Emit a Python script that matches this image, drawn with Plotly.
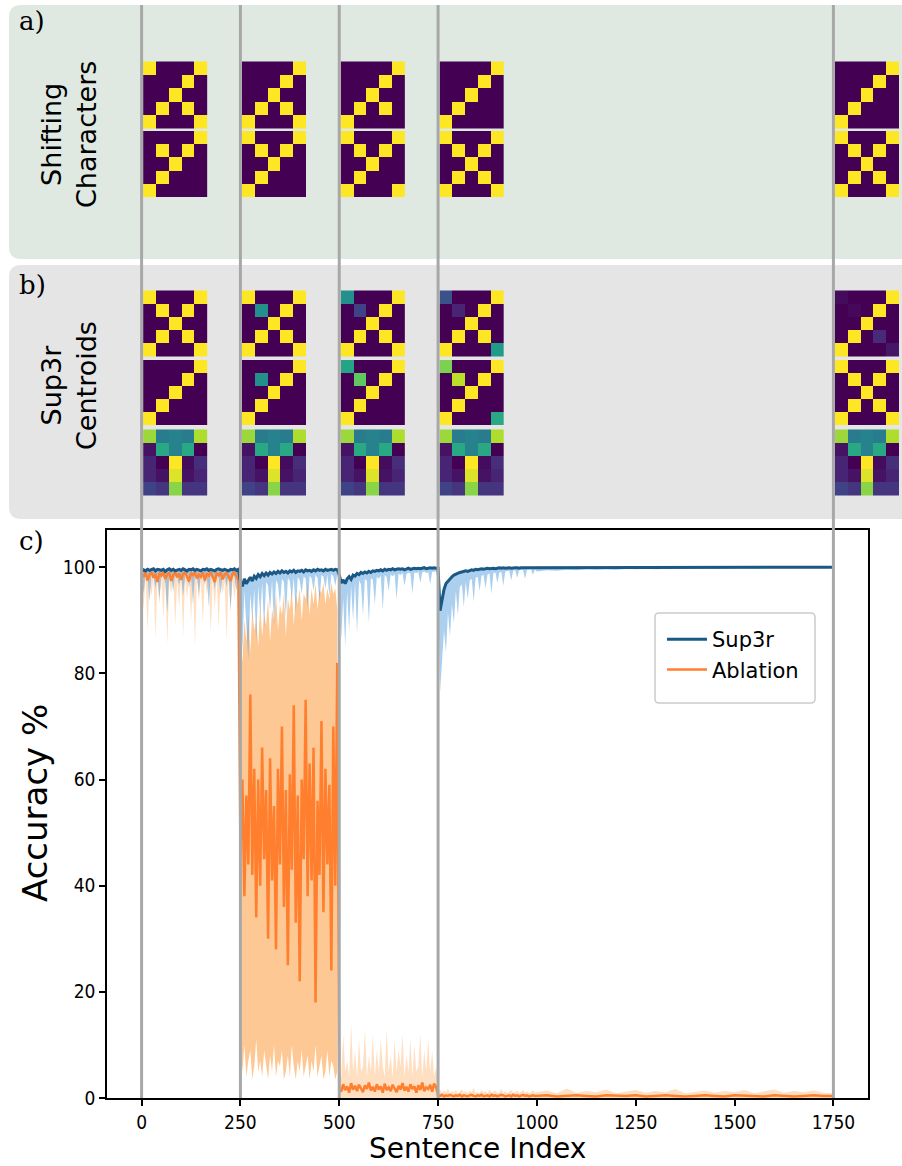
import numpy as np
import plotly.graph_objects as go

W, H = 902, 1166

# ---------------- data ----------------
# sentence index grid: every 5 sentences up to 995, then every 25 up to 1750
SENT = np.concatenate([np.arange(0, 1000, 5), np.arange(1000, 1751, 25)])
BOUNDARIES = [0, 250, 500, 750, 1750]
X_TICKS = [0, 250, 500, 750, 1000, 1250, 1500, 1750]
Y_TICKS = [0, 20, 40, 60, 80, 100]

SUP_MEAN = [
    # 0-245
    99.2, 99.5, 99.3, 99.6, 99.4, 99.5, 99.7, 99.3, 99.6, 99.5,
    99.4, 99.6, 99.2, 99.5, 99.7, 99.4, 99.6, 99.3, 99.5, 99.6,
    99.4, 99.7, 99.5, 99.3, 99.6, 99.5, 99.7, 99.4, 99.6, 99.5,
    99.3, 99.6, 99.5, 99.7, 99.4, 99.6, 99.5, 99.3, 99.6, 99.7,
    99.5, 99.4, 99.6, 99.5, 99.3, 99.6, 99.5, 99.7, 99.4, 99.6,
    # 250-495
    97.2, 96.4, 97.8, 96.9, 97.6, 98.1, 97.4, 98.3, 97.9, 98.6,
    98.2, 98.8, 98.4, 98.9, 98.5, 99.0, 98.7, 99.1, 98.8, 99.2,
    98.9, 99.3, 99.0, 99.2, 98.9, 99.3, 99.1, 99.4, 99.0, 99.3,
    99.2, 99.4, 99.1, 99.5, 99.3, 99.4, 99.2, 99.5, 99.3, 99.6,
    99.4, 99.5, 99.3, 99.6, 99.4, 99.5, 99.6, 99.4, 99.6, 99.5,
    # 500-745
    98.6, 97.0, 97.6, 96.9, 97.8, 98.2, 97.7, 98.5, 98.3, 98.8,
    98.6, 99.0, 98.8, 99.1, 98.9, 99.2, 99.0, 99.3, 99.2, 99.4,
    99.3, 99.5, 99.3, 99.6, 99.4, 99.6, 99.5, 99.7, 99.5, 99.6,
    99.7, 99.6, 99.7, 99.5, 99.7, 99.8, 99.6, 99.7, 99.8, 99.7,
    99.8, 99.7, 99.8, 99.9, 99.7, 99.8, 99.9, 99.8, 99.9, 99.8,
    # 750-995
    99.8, 91.8, 94.0, 95.8, 96.9, 97.4, 97.9, 98.2, 98.5, 98.7,
    98.9, 99.0, 99.1, 99.2, 99.3, 99.2, 99.4, 99.5, 99.4, 99.6,
    99.5, 99.6, 99.7, 99.6, 99.7, 99.8, 99.7, 99.8, 99.8, 99.7,
    99.8, 99.9, 99.8, 99.9, 99.8, 99.9, 99.9, 99.8, 99.9, 99.9,
    99.9, 99.8, 99.9, 99.9, 100.0, 99.9, 99.9, 100.0, 99.9, 99.9,
    # 1000-1750
    99.9, 100.0, 99.9, 100.0, 100.0, 99.9, 100.0, 100.0, 99.9, 100.0,
    100.0, 100.0, 99.9, 100.0, 100.0, 100.0, 99.9, 100.0, 100.0, 100.0,
    100.0, 99.9, 100.0, 100.0, 100.0, 100.0, 99.9, 100.0, 100.0, 100.0, 100.0,
]

SUP_LO = [
    # 0-245
    98.5, 95.0, 98.8, 98.2, 93.5, 98.7, 98.4, 96.0, 98.9, 94.0,
    98.6, 98.3, 97.0, 91.5, 98.7, 98.1, 95.5, 98.8, 98.4, 96.5,
    98.6, 94.5, 98.2, 98.9, 96.2, 98.5, 93.0, 98.7, 98.3, 95.0,
    98.8, 98.4, 96.8, 98.6, 92.5, 98.9, 98.3, 95.8, 98.6, 98.1,
    94.8, 98.7, 98.4, 96.3, 98.8, 92.0, 98.5, 98.2, 95.5, 98.7,
    # 250-495
    94.0, 84.0, 95.5, 88.0, 82.5, 95.0, 90.0, 96.0, 86.0, 96.5,
    91.0, 97.0, 88.5, 97.2, 96.5, 92.0, 97.5, 89.0, 97.6, 96.8,
    93.0, 97.8, 97.2, 90.5, 98.0, 97.4, 94.0, 98.1, 91.5, 98.2,
    97.5, 95.0, 98.3, 97.8, 92.5, 98.4, 97.9, 95.5, 98.5, 98.0,
    93.5, 98.5, 98.2, 96.0, 98.6, 94.5, 98.7, 98.3, 96.5, 98.6,
    # 500-745
    96.0, 86.5, 94.0, 85.0, 95.5, 88.0, 96.5, 90.0, 97.2, 87.5,
    97.5, 96.8, 91.0, 97.8, 97.4, 89.5, 98.0, 97.6, 93.0, 98.2,
    97.8, 98.4, 92.0, 98.5, 98.1, 95.5, 98.6, 98.3, 98.7, 94.0,
    98.8, 98.5, 98.9, 96.5, 98.7, 99.0, 98.8, 95.0, 99.0, 98.9,
    99.1, 97.0, 99.0, 99.2, 98.9, 99.1, 96.8, 99.2, 99.1, 99.3,
    # 750-995
    97.5, 76.5, 82.0, 88.0, 84.0, 91.5, 87.0, 93.0, 89.5, 95.5,
    91.0, 96.2, 96.8, 92.5, 97.2, 94.0, 97.5, 97.8, 93.5, 98.0,
    98.2, 95.5, 98.4, 98.5, 96.0, 98.6, 98.8, 95.0, 98.9, 99.0,
    97.0, 99.0, 99.1, 96.5, 99.2, 99.2, 99.3, 97.5, 99.3, 99.4,
    98.0, 99.4, 99.5, 99.4, 97.8, 99.5, 99.5, 99.6, 98.5, 99.6,
    # 1000-1750
    99.2, 99.4, 99.3, 99.5, 99.4, 99.6, 99.5, 99.6, 99.5, 99.7,
    99.6, 99.7, 99.6, 99.7, 99.7, 99.8, 99.7, 99.8, 99.7, 99.8,
    99.8, 99.8, 99.7, 99.8, 99.8, 99.9, 99.8, 99.8, 99.9, 99.8, 99.9,
]

ABL_MEAN = [
    # 0-245
    98.8, 98.2, 99.0, 97.5, 98.6, 99.1, 98.0, 98.7, 97.2, 98.9,
    98.4, 99.0, 97.8, 98.6, 98.9, 97.4, 98.5, 99.0, 98.1, 98.8,
    97.6, 98.7, 99.1, 98.3, 97.3, 98.9, 98.5, 99.0, 97.9, 98.6,
    98.2, 99.0, 97.5, 98.7, 98.4, 99.1, 98.0, 97.2, 98.8, 98.5,
    99.0, 97.7, 98.6, 98.9, 98.2, 97.4, 98.7, 99.0, 98.3, 97.6,
    # 250-495
    46, 60, 38, 57, 44, 76, 42, 62, 34, 60,
    40, 66, 45, 58, 30, 64, 41, 55, 28, 62,
    44, 70, 36, 58, 25, 61, 43, 74, 33, 57,
    22, 60, 45, 75, 38, 63, 41, 66, 18, 56,
    42, 71, 35, 62, 44, 59, 24, 70, 40, 82,
    # 500-745
    2.0, 1.2, 2.6, 1.5, 2.2, 1.0, 2.8, 1.6, 2.3, 1.3,
    2.5, 1.8, 1.1, 2.4, 1.7, 2.9, 1.4, 2.1, 1.2, 2.6,
    1.6, 2.2, 1.0, 2.7, 1.5, 2.0, 1.3, 2.5, 1.8, 1.1,
    2.3, 1.6, 2.8, 1.4, 2.1, 1.2, 2.6, 1.7, 2.2, 1.0,
    2.4, 1.5, 2.9, 1.3, 2.0, 1.7, 2.5, 1.2, 2.7, 2.0,
    # 750-995
    0.5, 0.4, 0.6, 0.3, 0.5, 0.4, 0.6, 0.4, 0.3, 0.5,
    0.4, 0.6, 0.3, 0.5, 0.4, 0.3, 0.5, 0.6, 0.4, 0.3,
    0.5, 0.4, 0.6, 0.3, 0.4, 0.5, 0.3, 0.6, 0.4, 0.5,
    0.3, 0.4, 0.6, 0.5, 0.3, 0.4, 0.5, 0.3, 0.6, 0.4,
    0.5, 0.3, 0.4, 0.6, 0.4, 0.5, 0.3, 0.4, 0.5, 0.4,
    # 1000-1750
    0.4, 0.5, 0.3, 0.4, 0.5, 0.4, 0.3, 0.5, 0.4, 0.4,
    0.5, 0.3, 0.4, 0.5, 0.4, 0.3, 0.4, 0.5, 0.4, 0.3,
    0.5, 0.4, 0.4, 0.3, 0.5, 0.4, 0.3, 0.4, 0.5, 0.4, 0.4,
]

ABL_HI = [
    # 0-245
    99.6, 99.7, 99.5, 99.7, 99.6, 99.8, 99.5, 99.7, 99.6, 99.7,
    99.5, 99.7, 99.6, 99.8, 99.6, 99.5, 99.7, 99.6, 99.7, 99.5,
    99.7, 99.6, 99.8, 99.5, 99.7, 99.6, 99.7, 99.5, 99.6, 99.7,
    99.6, 99.8, 99.5, 99.7, 99.6, 99.7, 99.5, 99.6, 99.7, 99.6,
    99.8, 99.5, 99.7, 99.6, 99.7, 99.5, 99.6, 99.8, 99.6, 99.7,
    # 250-495
    88, 82, 90, 86, 91, 84, 92, 88, 90, 85,
    93, 87, 91, 89, 94, 86, 92, 90, 95, 88,
    93, 91, 95, 87, 94, 92, 96, 89, 95, 93,
    96, 90, 95, 94, 97, 91, 96, 93, 97, 92,
    96, 95, 97, 93, 96, 94, 97, 95, 96, 92,
    # 500-745
    5, 4, 12, 5, 7, 4, 14, 5, 9, 4,
    11, 5, 6, 13, 4, 8, 5, 12, 4, 9,
    5, 11, 6, 4, 13, 5, 8, 4, 11, 5,
    9, 6, 12, 4, 8, 5, 11, 4, 10, 5,
    6, 12, 4, 9, 5, 11, 5, 9, 4, 6,
    # 750-995
    1.2, 1.6, 0.9, 1.4, 1.1, 1.8, 0.9, 1.3, 1.0, 1.5,
    0.9, 1.2, 1.7, 1.0, 1.3, 0.9, 1.4, 1.1, 1.9, 1.0,
    1.2, 0.9, 1.5, 1.1, 1.3, 0.9, 1.6, 1.0, 1.2, 1.4,
    0.9, 1.1, 1.7, 1.0, 1.3, 0.9, 1.2, 1.5, 1.0, 1.1,
    1.4, 0.9, 1.2, 1.6, 1.0, 1.3, 0.9, 1.1, 1.5, 1.0,
    # 1000-1750
    1.1, 1.4, 0.9, 1.8, 1.0, 1.3, 1.1, 1.6, 0.9, 1.2,
    1.5, 1.0, 1.3, 1.1, 1.7, 0.9, 1.2, 1.4, 1.0, 1.3,
    1.1, 1.5, 0.9, 1.2, 1.6, 1.0, 1.3, 1.1, 1.4, 1.0, 0.9,
]

# lower edge of the ablation band for sentences 0-495 (it is 0 afterwards)
ABL_LO = [
    # 0-245
    97.5, 92.0, 98.0, 88.0, 97.2, 94.5, 98.2, 86.5, 97.6, 93.0,
    97.9, 90.5, 98.1, 85.5, 97.4, 95.0, 98.0, 89.0, 97.3, 92.5,
    98.2, 87.0, 97.7, 94.0, 98.0, 90.0, 97.5, 85.0, 98.1, 93.5,
    97.6, 89.5, 98.2, 94.8, 97.3, 87.5, 98.0, 92.0, 97.8, 88.5,
    98.1, 95.0, 97.4, 86.0, 98.0, 91.5, 97.6, 93.8, 98.2, 89.0,
    # 250-495
    8, 5, 10, 4, 7, 9, 3.5, 6, 11, 5,
    7, 4, 9, 6, 3.5, 8, 5, 10, 4, 7,
    6, 9, 3.5, 5, 8, 4, 10, 6, 3.5, 7,
    5, 9, 4, 6, 8, 3.5, 7, 5, 10, 4,
    6, 8, 3.5, 5, 9, 4, 7, 6, 3.5, 5,
]

# ---------------- heatmap data (5x5 grids) ----------------
A_TOP = [
    [[1,0,0,0,1],[0,0,0,1,0],[0,0,1,0,0],[0,1,0,1,0],[1,0,0,0,1]],
    [[0,0,0,0,1],[0,0,0,1,0],[0,0,1,0,0],[0,1,0,1,0],[1,0,0,0,1]],
    [[0,0,0,0,1],[0,0,0,1,0],[0,0,1,0,0],[0,1,0,1,0],[1,0,0,0,0]],
    [[0,0,0,0,1],[0,0,0,1,0],[0,0,1,0,0],[0,1,0,0,0],[1,0,0,0,0]],
    [[0,0,0,0,1],[0,0,0,1,0],[0,0,1,0,0],[0,1,0,0,0],[1,0,0,0,0]],
]
A_BOT = [
    [[0,0,0,0,1],[0,1,0,1,0],[0,0,1,0,0],[0,1,0,0,0],[1,0,0,0,0]],
    [[1,0,0,0,1],[0,1,0,1,0],[0,0,1,0,0],[0,1,0,0,0],[1,0,0,0,0]],
    [[1,0,0,0,1],[0,1,0,1,0],[0,0,1,0,0],[0,1,0,0,0],[1,0,0,0,1]],
    [[1,0,0,0,1],[0,1,0,1,0],[0,0,1,0,0],[0,1,0,1,0],[1,0,0,0,1]],
    [[1,0,0,0,1],[0,1,0,1,0],[0,0,1,0,0],[0,1,0,1,0],[1,0,0,0,1]],
]
B_TOP = [
    [[1,0,0,0,1],[0,1,0,1,0],[0,0,1,0,0],[0,1,0,1,0],[1,0,0,0,1]],
    [[1,0,0,0,1],[0,0.5,0,1,0],[0,0,1,0,0],[0,1,0,1,0],[1,0,0,0,1]],
    [[0.5,0,0,0,1],[0,0.2,0,1,0],[0,0,1,0,0],[0,1,0,1,0],[1,0,0,0,1]],
    [[0.25,0,0,0,1],[0,0.1,0,1,0],[0,0,1,0,0],[0,1,0,1,0],[1,0,0,0,0.55]],
    [[0.03,0,0,0,1],[0,0.02,0,1,0],[0,0,1,0,0],[0,1,0,0.12,0],[1,0,0,0,0.06]],
]
B_MID = [
    [[0,0,0,0,1],[0,0,0,1,0],[0,0,1,0,0],[0,1,0,0,0],[1,0,0,0,0]],
    [[0,0,0,0,1],[0,0.5,0,1,0],[0,0,1,0,0],[0,1,0,0,0],[1,0,0,0,0]],
    [[0.58,0,0,0,1],[0,0.75,0,1,0],[0,0,1,0,0],[0,1,0,0,0],[1,0,0,0,0]],
    [[0.8,0,0,0,1],[0,0.9,0,1,0],[0,0,1,0,0],[0,1,0,0,0],[1,0,0,0,0.6]],
    [[1,0,0,0,1],[0,1,0,1,0],[0,0,1,0,0],[0,1,0,1,0],[1,0,0,0,1]],
]
B_BOT = [
    [0.85, 0.42, 0.45, 0.42, 0.88],
    [0.05, 0.60, 0.45, 0.60, 0.00],
    [0.10, 0.00, 1.00, 0.03, 0.13],
    [0.10, 0.05, 0.95, 0.05, 0.10],
    [0.20, 0.15, 0.82, 0.15, 0.15],
]

# ---------------- figure ----------------
def px(x):
    return x / W


def py(y):
    return 1 - y / H


fig = go.Figure()

ORANGE_BAND = "rgba(253,190,128,0.85)"
ORANGE_FAINT = "rgba(253,185,120,0.45)"
BLUE_BAND = "rgba(88,160,222,0.50)"

# ablation band
fig.add_trace(go.Scatter(x=SENT[:50], y=ABL_HI[:50], mode="lines", line=dict(width=0),
                         showlegend=False, hoverinfo="skip"))
fig.add_trace(go.Scatter(x=SENT[:50], y=ABL_LO[:50], mode="lines", line=dict(width=0),
                         fill="tonexty", fillcolor=ORANGE_FAINT, showlegend=False, hoverinfo="skip"))
fig.add_trace(go.Scatter(x=SENT[50:100], y=ABL_HI[50:100], mode="lines", line=dict(width=0),
                         showlegend=False, hoverinfo="skip"))
fig.add_trace(go.Scatter(x=SENT[50:100], y=ABL_LO[50:100], mode="lines", line=dict(width=0),
                         fill="tonexty", fillcolor=ORANGE_BAND, showlegend=False, hoverinfo="skip"))
fig.add_trace(go.Scatter(x=SENT[100:], y=ABL_HI[100:], mode="lines", line=dict(width=0),
                         fill="tozeroy", fillcolor=ORANGE_FAINT, showlegend=False, hoverinfo="skip"))
# Sup3r band
fig.add_trace(go.Scatter(x=SENT, y=SUP_MEAN, mode="lines", line=dict(width=0),
                         showlegend=False, hoverinfo="skip"))
fig.add_trace(go.Scatter(x=SENT, y=SUP_LO, mode="lines", line=dict(width=0),
                         fill="tonexty", fillcolor=BLUE_BAND, showlegend=False, hoverinfo="skip"))
# mean lines
fig.add_trace(go.Scatter(x=SENT, y=ABL_MEAN, mode="lines", name="Ablation",
                         line=dict(color="#ff7f2e", width=2.5), legendrank=2))
fig.add_trace(go.Scatter(x=SENT, y=SUP_MEAN, mode="lines", name="Sup3r",
                         line=dict(color="#1b5884", width=3), legendrank=1))

# heatmaps (drawn on a helper axis pair that shares the main x scale)
CELL_W = 32.6
col_starts = [b + 4 for b in BOUNDARIES]


def add_grid(z, xs, top, h):
    fig.add_trace(go.Heatmap(z=z, x0=xs + CELL_W / 2, dx=CELL_W, y0=top + h / 2, dy=h,
                             colorscale="Viridis", zmin=0, zmax=1, showscale=False,
                             xaxis="x2", yaxis="y2", hoverinfo="skip"))


for i, xs in enumerate(col_starts):
    add_grid(A_TOP[i], xs, 61.5, 13.3)
    add_grid(A_BOT[i], xs, 131.0, 13.2)
    add_grid(B_TOP[i], xs, 290.5, 13.1)
    add_grid(B_MID[i], xs, 360.0, 13.0)
    add_grid(B_BOT, xs, 429.5, 13.1)

# ---------------- layout ----------------
x_lo, x_hi = -87.5, 1837.5
ax_l, ax_r = 107, 868
upp = (x_hi - x_lo) / (ax_r - ax_l)
TICKFONT = dict(family="Liberation Sans Narrow, DejaVu Sans Condensed, DejaVu Sans", size=19, color="black")

fig.update_layout(
    width=W, height=H,
    margin=dict(l=0, r=0, t=0, b=0),
    paper_bgcolor="white", plot_bgcolor="rgba(0,0,0,0)",
    showlegend=True,
    legend=dict(x=px(662), y=py(619), xanchor="left", yanchor="top", traceorder="normal",
                bgcolor="rgba(0,0,0,0)", borderwidth=0, itemwidth=40,
                font=dict(family="DejaVu Sans", size=21, color="black")),
    xaxis=dict(domain=[px(ax_l), px(ax_r)], range=[x_lo, x_hi], anchor="y",
               tickvals=X_TICKS, ticks="outside", ticklen=6, tickwidth=1.5, tickcolor="black",
               showline=True, linecolor="black", linewidth=1.5, mirror=True,
               showgrid=False, zeroline=False, tickfont=TICKFONT, automargin=False),
    yaxis=dict(domain=[py(1098), py(530)], range=[0, 107], anchor="x",
               tickvals=Y_TICKS, ticks="outside", ticklen=6, tickwidth=1.5, tickcolor="black",
               showline=True, linecolor="black", linewidth=1.5, mirror=True,
               showgrid=False, zeroline=False, tickfont=TICKFONT, automargin=False),
    xaxis2=dict(domain=[0, 1], range=[x_lo - ax_l * upp, x_hi + (W - ax_r) * upp],
                anchor="y2", visible=False, fixedrange=True),
    yaxis2=dict(domain=[py(530), 1], range=[530, 0], anchor="x2", visible=False, fixedrange=True),
)


def rounded_rect(x0, y0, x1, y1, r):
    rx, ry = r / W, r / H
    X0, X1 = px(x0), px(x1)
    Y0, Y1 = py(y1), py(y0)  # bottom, top in paper coords
    return (f"M {X0+rx},{Y1} L {X1-rx},{Y1} Q {X1},{Y1} {X1},{Y1-ry} "
            f"L {X1},{Y0+ry} Q {X1},{Y0} {X1-rx},{Y0} L {X0+rx},{Y0} "
            f"Q {X0},{Y0} {X0},{Y0+ry} L {X0},{Y1-ry} Q {X0},{Y1} {X0+rx},{Y1} Z")


shapes = [
    dict(type="path", path=rounded_rect(9, 5, 930, 259, 12), xref="paper", yref="paper",
         fillcolor="#dfe9e1", line=dict(width=0), layer="below"),
    dict(type="path", path=rounded_rect(9, 265, 930, 519, 12), xref="paper", yref="paper",
         fillcolor="#e5e5e5", line=dict(width=0), layer="below"),
    # legend frame
    dict(type="path", path=rounded_rect(655, 613, 815, 703, 4), xref="paper", yref="paper",
         fillcolor="white", line=dict(color="#cccccc", width=1.5), layer="above"),
]
for b in BOUNDARIES:
    shapes.append(dict(type="line", xref="x", yref="paper", x0=b, x1=b,
                       y0=py(1098), y1=py(5), line=dict(color="#a8a8a8", width=3), layer="above"))
fig.update_layout(shapes=shapes)

SERIF = dict(family="DejaVu Serif", size=26, color="black")
SANS_BIG = dict(family="DejaVu Sans", size=27, color="black")
annotations = [
    dict(text="a)", x=px(17), y=py(21), xanchor="left", yanchor="middle", font=SERIF),
    dict(text="b)", x=px(17), y=py(285), xanchor="left", yanchor="middle", font=SERIF),
    dict(text="c)", x=px(17), y=py(541), xanchor="left", yanchor="middle", font=SERIF),
    dict(text="Shifting<br>Characters", x=px(69), y=py(135), textangle=-90,
         xanchor="center", yanchor="middle", font=SANS_BIG),
    dict(text="Sup3r<br>Centroids", x=px(69), y=py(386), textangle=-90,
         xanchor="center", yanchor="middle", font=SANS_BIG),
    dict(text="Accuracy %", x=px(35), y=py(803), textangle=-90,
         xanchor="center", yanchor="middle", font=dict(family="DejaVu Sans", size=34, color="black")),
    dict(text="Sentence Index", x=px(477), y=py(1148),
         xanchor="center", yanchor="middle", font=dict(family="DejaVu Sans", size=28, color="black")),
]
for a in annotations:
    a.update(xref="paper", yref="paper", showarrow=False)
fig.update_layout(annotations=annotations)

fig.write_html("out.html", config={"displayModeBar": False},
               post_script="document.body.style.margin='0px';document.body.style.overflow='hidden';")
